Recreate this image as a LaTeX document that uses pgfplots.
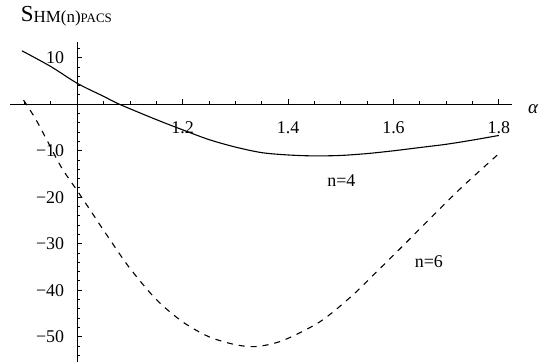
\documentclass[border=0pt]{standalone}
\usepackage{fontspec}
\setmainfont{Liberation Serif}
\usepackage{pgfplots}
\pgfplotsset{compat=1.18}

\begin{document}
\begin{tikzpicture}
% the vertical axis crosses at alpha = 1, so alpha is shifted by -1 to put it at 0
\begin{axis}[
  x=527bp, y=4.65bp,
  axis lines=middle,
  axis line style={line width=1.2bp, -},
  x filter/.expression={x-1},
  xmin=-0.127, xmax=0.824, ymin=-55.4, ymax=13.4,
  clip=false,
  xtick={0.2,0.4,0.6,0.8},
  xticklabels={1.2,1.4,1.6,1.8},
  minor xtick={-0.1,-0.05,0.05,0.1,0.15,0.25,0.3,0.35,0.45,0.5,0.55,0.65,0.7,0.75},
  ytick={-50,-40,-30,-20,-10,10},
  yticklabels={−50,−40,−30,−20,−10,10},
  minor ytick={-54,-52,-48,-46,-44,-42,-38,-36,-34,-32,-28,-26,-24,-22,-18,-16,-14,-12,-8,-6,-4,-2,2,4,6,8,12},
  tick align=inside,
  major tick length=5bp,
  minor tick length=3bp,
  every tick/.style={black, line width=1bp},
  xticklabel style={font=\fontsize{18}{18}\selectfont, anchor=north, inner sep=0pt, yshift=-17bp},
  yticklabel style={font=\fontsize{18}{18}\selectfont, anchor=east, inner sep=0pt, xshift=-13bp},
]

% n = 4 (solid)
\addplot[black, line width=1.1bp, smooth] coordinates {
  (0.895,11.5) (0.95,8.1) (1.0,4.5) (1.05,1.7) (1.08,0) (1.15,-3.3)
  (1.2,-5.5) (1.25,-7.6) (1.3,-9.2) (1.35,-10.4) (1.4,-10.9) (1.45,-11.1)
  (1.5,-11.0) (1.55,-10.6) (1.6,-10.0) (1.65,-9.3) (1.7,-8.6) (1.75,-7.7)
  (1.8,-6.7)
};

% n = 6 (dashed)
\addplot[black, line width=1.1bp, smooth, dash pattern=on 6bp off 6bp] coordinates {
  (0.898,0.9) (0.92,-3.0) (0.94,-7.2) (0.97,-13.6) (1.0,-18.6) (1.02,-22.0)
  (1.06,-28.8) (1.1,-35.3) (1.15,-42.0) (1.2,-46.8) (1.25,-50.0) (1.3,-51.7)
  (1.34,-52.1) (1.39,-50.8) (1.46,-46.8) (1.52,-41.3) (1.57,-35.8) (1.62,-30.2)
  (1.67,-24.5) (1.73,-17.8) (1.803,-10.3)
};

\node[anchor=base west, inner sep=0pt] at (axis cs:-0.1074,17.7)
  {{\fontsize{23}{23}\selectfont S}\raisebox{-1bp}{\fontsize{17}{17}\selectfont HM(n)}\raisebox{-1bp}{\fontsize{13}{13}\selectfont PACS}};
\node[anchor=base west, inner sep=0pt, font=\fontsize{19}{19}\selectfont] at (axis cs:0.855,-1.9) {\textit{α}};
\node[font=\fontsize{18}{18}\selectfont] at (axis cs:0.501,-16.5) {n=4};
\node[font=\fontsize{18}{18}\selectfont] at (axis cs:0.667,-33.8) {n=6};

\path (axis cs:-0.1467,-55.42) rectangle (axis cs:0.8818,22.43);
\end{axis}
\end{tikzpicture}
\end{document}
